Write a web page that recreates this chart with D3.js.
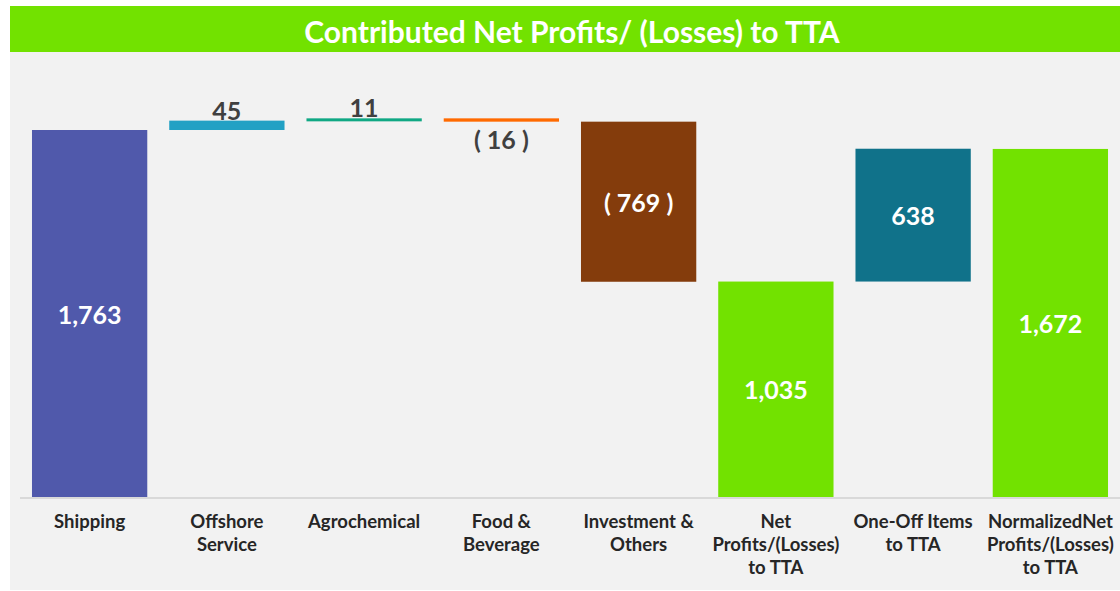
<!DOCTYPE html>
<html>
<head>
<meta charset="utf-8">
<script src="https://cdn.jsdelivr.net/npm/d3@7"></script>
<style>
  html, body { margin: 0; padding: 0; background: #ffffff; }
  svg { display: block; }
</style>
</head>
<body>
<svg id="chart" width="1120" height="591"></svg>
<script>
const title = "Contributed Net Profits/ (Losses) to TTA";
const categories = [
  ["Shipping"],
  ["Offshore", "Service"],
  ["Agrochemical"],
  ["Food &", "Beverage"],
  ["Investment &", "Others"],
  ["Net", "Profits/(Losses)", "to TTA"],
  ["One-Off Items", "to TTA"],
  ["NormalizedNet", "Profits/(Losses)", "to TTA"]
];
const values = [1763, 45, 11, -16, -769, 1035, 638, 1672];
const isTotal = [false, false, false, false, false, true, false, true];
const valueLabels = ["1,763", "45", "11", "( 16 )", "( 769 )", "1,035", "638", "1,672"];
const colors = ["#5059ab", "#22a1c4", "#10a884", "#ff6a00", "#843c0c", "#72e200", "#10728a", "#72e200"];
const labelInside = [true, false, false, false, true, true, true, true];

const svg = d3.select("#chart");
const W = 1120, H = 591;

// background panels
svg.append("rect").attr("x", 10).attr("y", 52).attr("width", W - 10).attr("height", 538).attr("fill", "#f2f2f2");
svg.append("rect").attr("x", 10).attr("y", 6).attr("width", W - 10).attr("height", 46).attr("fill", "#72e200");
svg.append("text").attr("x", 572).attr("y", 31).attr("text-anchor", "middle").attr("dominant-baseline", "central")
  .attr("font-family", "Lato, 'Open Sans', sans-serif").attr("font-weight", "bold").attr("font-size", 30)
  .attr("fill", "#ffffff").text(title);

// compute waterfall
let running = 0;
const bars = values.map((v, i) => {
  let y0, y1;
  if (isTotal[i]) { y0 = 0; y1 = v; running = v; }
  else { y0 = running; y1 = running + v; running = y1; }
  return { i, v, lo: Math.min(y0, y1), hi: Math.max(y0, y1) };
});

const x = d3.scaleBand().domain(d3.range(categories.length)).range([21, 1119]).paddingInner(0.16).paddingOuter(0.08);
const y = d3.scaleLinear().domain([0, 1763]).range([497, 130]);

// baseline
svg.append("line").attr("x1", 20).attr("x2", W).attr("y1", 498).attr("y2", 498)
  .attr("stroke", "#d9d9d9").attr("stroke-width", 2);

const g = svg.append("g");
g.selectAll("rect.bar").data(bars).join("rect").attr("class", "bar")
  .attr("x", d => x(d.i)).attr("width", x.bandwidth())
  .attr("y", d => y(d.hi)).attr("height", d => Math.max(3, y(d.lo) - y(d.hi)))
  .attr("fill", d => colors[d.i]);

// value labels
g.selectAll("text.val").data(bars).join("text").attr("class", "val")
  .attr("x", d => x(d.i) + x.bandwidth() / 2)
  .attr("y", d => {
    if (labelInside[d.i]) return (y(d.hi) + y(d.lo)) / 2;
    if (d.v >= 0) return y(d.hi) - 11;
    return y(d.lo) + 17;
  })
  .attr("text-anchor", "middle").attr("dominant-baseline", "central")
  .attr("font-family", "Lato, 'Open Sans', sans-serif").attr("font-weight", "bold").attr("font-size", 25)
  .attr("fill", d => labelInside[d.i] ? "#ffffff" : "#404040")
  .text(d => valueLabels[d.i]);

// category labels
const cat = g.selectAll("text.cat").data(categories).join("text").attr("class", "cat")
  .attr("x", (d, i) => x(i) + x.bandwidth() / 2).attr("y", 522)
  .attr("text-anchor", "middle")
  .attr("font-family", "Lato, 'Open Sans', sans-serif").attr("font-weight", "bold").attr("font-size", 18.5)
  .attr("fill", "#262626");
cat.selectAll("tspan").data(d => d).join("tspan")
  .attr("x", function() { return d3.select(this.parentNode).attr("x"); })
  .attr("dy", (d, j) => j === 0 ? "0.35em" : 23)
  .text(d => d);
</script>
</body>
</html>
